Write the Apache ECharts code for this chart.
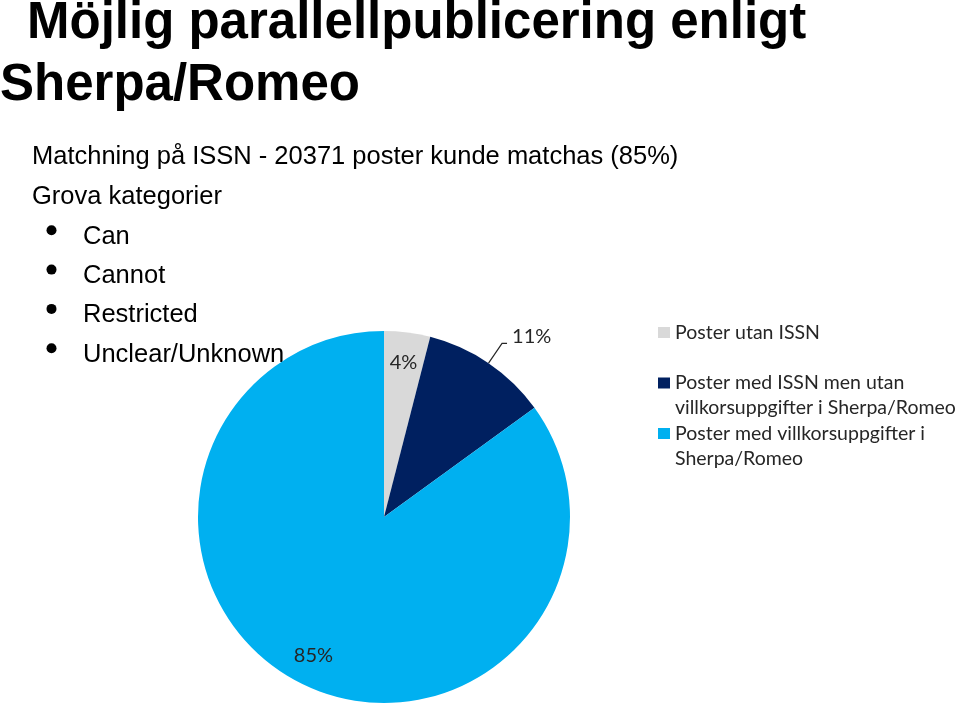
<!DOCTYPE html>
<html><head><meta charset="utf-8">
<script src="https://cdn.jsdelivr.net/npm/echarts@6/dist/echarts.min.js"></script>
<style>html,body{margin:0;padding:0;background:#fff}#c{width:960px;height:708px}</style>
</head><body><div id="c"></div>
<script>
const titleLines = ['Möjlig parallellpublicering enligt', 'Sherpa/Romeo'];
const infoLines = ['Matchning på ISSN - 20371 poster kunde matchas (85%)', 'Grova kategorier'];
const bulletItems = ['Can', 'Cannot', 'Restricted', 'Unclear/Unknown'];
const categories = ['Poster utan ISSN', 'Poster med ISSN men utan villkorsuppgifter i Sherpa/Romeo', 'Poster med villkorsuppgifter i Sherpa/Romeo'];
const legendLabels = [' \nPoster utan ISSN\n ', ' \nPoster med ISSN men utan\nvillkorsuppgifter i Sherpa/Romeo', ' \nPoster med villkorsuppgifter i\nSherpa/Romeo'];
const values = [4, 11, 85];
const colors = ['#d9d9d9', '#002060', '#00b0f0'];
const outsideLabel = [false, true, false];

const chart = echarts.init(document.getElementById('c'), null, {renderer: 'canvas'});
const sansBold = 'bold 51px "Liberation Sans", Arial, sans-serif';
const sans = '25.5px "Liberation Sans", Arial, sans-serif';
const mid = (baseline, fs) => baseline - 0.3 * fs;

const graphics = [];
const titleX = [27, 0], titleBase = [39, 101];
titleLines.forEach((t, i) => graphics.push({type: 'text', x: titleX[i], y: mid(titleBase[i], 51),
  style: {text: t, font: sansBold, fill: '#000', verticalAlign: 'middle', align: 'left'}}));
const infoBase = [165, 204.3];
infoLines.forEach((t, i) => graphics.push({type: 'text', x: 32, y: mid(infoBase[i], 25.5),
  style: {text: t, font: sans, fill: '#000', verticalAlign: 'middle', align: 'left'}}));
bulletItems.forEach((t, i) => {
  const base = 244.3 + i * 39.3;
  graphics.push({type: 'text', x: 83, y: mid(base, 25.5),
    style: {text: t, font: sans, fill: '#000', verticalAlign: 'middle', align: 'left'}});
  graphics.push({type: 'circle', shape: {cx: 51.5, cy: base - 14, r: 5}, style: {fill: '#000'}});
});

const labelFont = {fontFamily: 'Lato, "Open Sans", sans-serif', fontSize: 20, color: '#262626'};

chart.setOption({
  animation: false,
  graphic: graphics,
  legend: {
    orient: 'vertical', left: 653, top: 290, icon: 'rect', itemWidth: 12, itemHeight: 11,
    itemGap: -24.5, selectedMode: false,
    data: categories,
    formatter: name => legendLabels[categories.indexOf(name)],
    textStyle: {fontFamily: 'Lato, "Open Sans", sans-serif', fontSize: 19.5, color: '#262626', lineHeight: 25}
  },
  series: [{
    type: 'pie', center: [384, 517], radius: [0, 186], startAngle: 90, clockwise: true,
    silent: true, itemStyle: {borderWidth: 0},
    label: {show: false}, labelLine: {show: false},
    emphasis: {disabled: true},
    data: categories.map((n, i) => ({name: n, value: values[i], itemStyle: {color: colors[i]},
      label: outsideLabel[i] ? Object.assign({show: true, position: 'outside', formatter: '{c}%\n ', lineHeight: 14}, labelFont) : {show: false},
      labelLine: outsideLabel[i] ? {show: true, length: 24, length2: 5, lineStyle: {color: '#262626', width: 1.2}} : {show: false}
    }))
  }, {
    type: 'pie', center: [384, 517], radius: [125, 180], startAngle: 90, clockwise: true,
    silent: true, legendHoverLink: false, emphasis: {disabled: true},
    itemStyle: {color: 'rgba(0,0,0,0)', borderWidth: 0},
    labelLine: {show: false},
    data: categories.map((n, i) => ({name: n, value: values[i],
      label: outsideLabel[i] ? {show: false} : Object.assign({show: true, position: 'inside', formatter: '{c}%'}, labelFont)
    }))
  }]
});
</script></body></html>
